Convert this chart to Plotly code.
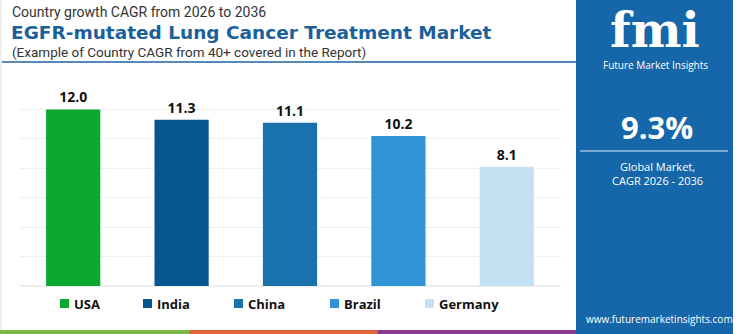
import plotly.graph_objects as go

countries = ["USA", "India", "China", "Brazil", "Germany"]
cagr = [12.0, 11.3, 11.1, 10.2, 8.1]
bar_colors = ["#0aa82f", "#07558f", "#1a72ac", "#2f93d6", "#c4e1f3"]
global_cagr = "9.3%"
legend_left_px = [60, 143, 234, 330, 425]

W, H = 750, 334
L, R, T, B = 19, 189, 80, 48
PW, PH = W - L - R, H - T - B


def px(x):
    return (x - L) / PW


def py(y):
    return (H - B - y) / PH


fig = go.Figure()
for c, v, col in zip(countries, cagr, bar_colors):
    fig.add_trace(go.Bar(
        x=[c], y=[v], name=c, marker=dict(color=col, line=dict(width=0)),
        width=0.5, text=[f"{v:.1f}"], textposition="outside",
        textfont=dict(family="Open Sans", size=14, color="#111111", weight="bold"),
        cliponaxis=False, showlegend=False,
    ))

shapes = [
    # right blue panel
    dict(type="rect", xref="paper", yref="paper", x0=px(576), x1=px(733), y0=py(334), y1=py(0),
         fillcolor="#1667a9", line=dict(width=0), layer="below"),
    # title underline
    dict(type="line", xref="paper", yref="paper", x0=px(2), x1=px(576), y0=py(62), y1=py(62),
         line=dict(color="#1d62a0", width=1.5)),
    # left border
    dict(type="line", xref="paper", yref="paper", x0=px(1), x1=px(1), y0=py(0), y1=py(330),
         line=dict(color="#dddddd", width=1)),
    # bottom stripes
    dict(type="rect", xref="paper", yref="paper", x0=px(0), x1=px(189), y0=py(334), y1=py(330),
         fillcolor="#7ab648", line=dict(width=0)),
    dict(type="rect", xref="paper", yref="paper", x0=px(189), x1=px(378), y0=py(334), y1=py(330),
         fillcolor="#e0643a", line=dict(width=0)),
    dict(type="rect", xref="paper", yref="paper", x0=px(378), x1=px(576), y0=py(334), y1=py(330),
         fillcolor="#8b3a8f", line=dict(width=0)),
    # panel divider
    dict(type="line", xref="paper", yref="paper", x0=px(580), x1=px(728), y0=py(151), y1=py(151),
         line=dict(color="#9cc3e6", width=1.5)),
]

ann = [
    dict(text="Country growth CAGR from 2026 to 2036", x=px(10), y=py(12),
         font=dict(family="Roboto", size=14, color="#333333"), xanchor="left"),
    dict(text="<b>EGFR-mutated Lung Cancer Treatment Market</b>", x=px(9), y=py(32.5),
         font=dict(family="DejaVu Sans", size=18.5, color="#1b5f9b"), xanchor="left"),
    dict(text="(Example of Country CAGR from 40+ covered in the Report)", x=px(10), y=py(52.5),
         font=dict(family="Roboto", size=13.5, color="#333333"), xanchor="left"),
    dict(text="<b>fmi</b>", x=px(655), y=py(30),
         font=dict(family="DejaVu Serif", size=48, color="#ffffff"), xanchor="center"),
    dict(text="Future Market Insights", x=px(655), y=py(65),
         font=dict(family="Open Sans", size=10, color="#ffffff"), xanchor="center"),
    dict(text="<b>" + global_cagr + "</b>", x=px(657), y=py(127),
         font=dict(family="Open Sans", size=31, color="#ffffff"), xanchor="center"),
    dict(text="Global Market,", x=px(657), y=py(166),
         font=dict(family="Open Sans", size=11, color="#ffffff"), xanchor="center"),
    dict(text="CAGR 2026 - 2036", x=px(657), y=py(180),
         font=dict(family="Open Sans", size=11, color="#ffffff"), xanchor="center"),
    dict(text="www.futuremarketinsights.com", x=px(659), y=py(319),
         font=dict(family="Open Sans", size=10, color="#ffffff"), xanchor="center"),
]

# legend built from the series arrays
for c, col, lx in zip(countries, bar_colors, legend_left_px):
    shapes.append(dict(type="rect", xref="paper", yref="paper",
                       x0=px(lx), x1=px(lx + 9), y0=py(308), y1=py(299),
                       fillcolor=col, line=dict(width=0)))
    ann.append(dict(text="<b>" + c + "</b>", x=px(lx + 12), y=py(303.5), xanchor="left",
                    font=dict(family="Open Sans", size=13, color="#111111")))

for a in ann:
    a.update(xref="paper", yref="paper", showarrow=False, yanchor="middle")

fig.update_layout(
    width=W, height=H,
    margin=dict(l=L, r=R, t=T, b=B, pad=0),
    paper_bgcolor="#ffffff", plot_bgcolor="#ffffff",
    bargap=0.5,
    showlegend=False,
    xaxis=dict(showticklabels=False, showgrid=False, zeroline=False, showline=False,
               range=[-0.5, 4.5], fixedrange=True),
    yaxis=dict(range=[0, 14], dtick=2, showticklabels=False, showgrid=True,
               gridcolor="#efefef", gridwidth=1, zeroline=True, zerolinecolor="#eeeeee",
               showline=False),
    shapes=shapes,
    annotations=ann,
    font=dict(family="Open Sans"),
)

fig.write_html("out.html")
